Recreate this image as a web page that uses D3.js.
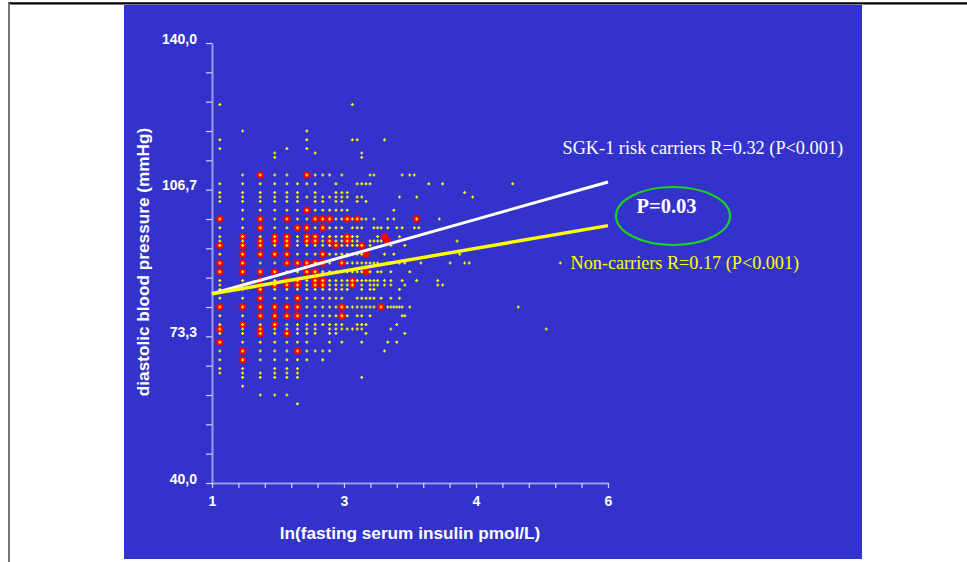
<!DOCTYPE html>
<html>
<head>
<meta charset="utf-8">
<script src="https://cdn.jsdelivr.net/npm/d3@7"></script>
<style>
  html, body { margin: 0; padding: 0; background: #ffffff; }
  svg { display: block; }
</style>
</head>
<body>
<svg id="chart" width="967" height="562"></svg>
<script>
// Diastolic blood pressure (mmHg) against fasting serum insulin (pmol/L, log scale).
// Each row: [blood pressure, list of insulin values observed at that pressure].
const carrierRows = [
  [110, [5, 9]],
  [102, [9]],
  [100, [3, 5, 7, 10, 11, 12, 15, 17, 36]],
  [98,  [5, 8, 9, 11]],
  [96,  [4, 6, 7, 9, 10, 15, 24]],
  [95,  [5, 6, 7, 9, 10, 12, 15, 25]],
  [94,  [3, 4, 5, 7, 13, 18]],
  [92,  [4, 5, 6, 7, 11, 19]],
  [90,  [3, 4, 7, 8, 9, 10, 11, 14]],
  [88,  [3, 4, 5, 6, 9, 10, 19]],
  [86,  [5, 7, 8, 10, 11, 16]],
  [85,  [5, 6, 7, 8, 10, 11, 16]],
  [84,  [5]],
  [82,  [5, 8]],
  [80,  [3, 4, 5, 6, 7, 8, 14, 23]],
  [78,  [5, 6, 7, 8, 14]],
  [76,  [4, 6]],
  [75,  [3, 5]],
  [74,  [5, 7]],
  [72,  [3]],
  [70,  [4, 8]],
  [68,  [4]]
];

const nonCarrierRows = [
  [126, [3, 16]],
  [120, [4, 9]],
  [118, [3, 9, 16, 17, 24]],
  [116, [3, 7, 9]],
  [115, [6, 10, 18]],
  [114, [6, 18]],
  [110, [4, 5, 6, 7, 9, 10, 11, 12, 14, 20, 21, 30, 33, 35]],
  [108, [3, 4, 5, 6, 7, 8, 9, 10, 13, 17, 18, 19, 20, 42, 50, 121]],
  [106, [3, 4, 5, 6, 7, 8, 10, 13, 14, 15, 66]],
  [105, [3, 4, 5, 6, 7, 8, 9, 10, 11, 12, 13, 14, 15, 17, 18, 29, 36, 73]],
  [104, [3, 4, 5, 6, 7, 8, 10, 11, 13, 14, 17, 19]],
  [102, [4, 5, 6, 7, 8, 9, 10, 11, 12, 13, 14, 15, 27]],
  [100, [3, 4, 5, 6, 7, 8, 9, 10, 11, 12, 13, 14, 15, 16, 17, 18, 19, 21, 25, 27, 36, 48]],
  [98,  [3, 4, 5, 6, 7, 8, 9, 10, 11, 12, 13, 14, 16, 17, 18, 21, 22, 23, 25, 28, 30, 35, 37]],
  [96,  [3, 4, 5, 6, 7, 8, 9, 10, 11, 12, 13, 14, 15, 16, 17, 22, 29]],
  [95,  [3, 4, 5, 6, 7, 8, 9, 10, 11, 12, 13, 14, 15, 16, 17, 20, 21, 22, 23, 60]],
  [94,  [3, 4, 5, 6, 7, 8, 9, 10, 11, 12, 13, 14, 15, 16, 17, 18, 20, 26, 31]],
  [92,  [3, 4, 5, 6, 7, 8, 9, 10, 11, 12, 13, 14, 15, 16, 17, 18, 24, 27, 62]],
  [90,  [3, 4, 5, 6, 7, 8, 9, 10, 11, 12, 14, 15, 16, 17, 18, 19, 20, 21, 22, 25, 26, 29, 31, 38, 55, 66, 70, 221]],
  [88,  [3, 4, 5, 6, 7, 8, 9, 10, 11, 12, 13, 14, 15, 16, 17, 18, 20, 22, 23, 26, 33]],
  [86,  [3, 4, 5, 6, 7, 8, 9, 10, 11, 12, 13, 14, 15, 16, 17, 18, 19, 20, 21, 22, 24, 26, 30, 36, 47]],
  [85,  [3, 4, 5, 6, 7, 8, 9, 10, 11, 12, 13, 14, 15, 16, 18, 20, 21, 22, 24, 26, 31, 47, 50]],
  [84,  [3, 4, 5, 6, 7, 8, 9, 10, 11, 12, 13, 14, 15, 18, 20, 21, 29]],
  [82,  [3, 4, 5, 6, 7, 8, 9, 10, 11, 12, 13, 14, 17, 18, 19, 20, 21, 23, 26, 29]],
  [80,  [3, 4, 5, 6, 7, 8, 9, 10, 11, 12, 13, 14, 15, 16, 17, 18, 19, 20, 21, 23, 25, 26, 27, 28, 29, 30, 33, 130]],
  [78,  [3, 4, 5, 6, 7, 8, 9, 10, 11, 12, 13, 14, 15, 17, 18, 20, 30, 31]],
  [76,  [3, 4, 5, 6, 7, 8, 9, 10, 11, 12, 13, 14, 17, 18, 19, 28]],
  [75,  [3, 4, 5, 6, 7, 8, 9, 10, 12, 13, 14, 15, 16, 17, 18, 26, 185]],
  [74,  [3, 4, 5, 6, 7, 8, 9, 10, 12, 13, 19, 31]],
  [72,  [3, 4, 5, 6, 7, 8, 9, 12, 14, 18, 25, 28]],
  [70,  [3, 4, 5, 6, 7, 8, 9, 10, 11, 12, 24]],
  [68,  [3, 4, 5, 6, 7, 8, 9, 11]],
  [66,  [3, 4, 6, 7, 8]],
  [65,  [3, 4, 5, 6, 7, 8]],
  [64,  [4, 5, 6, 7, 8, 18]],
  [62,  [4]],
  [60,  [5, 6, 7]],
  [58,  [8]]
];

// Regression lines, endpoints as [ln(insulin), blood pressure]
const carrierFit = [[1, 83], [6, 108.4]];
const nonCarrierFit = [[1, 83], [6, 98.5]];

// Axis ticks and labels
const xTickValues = d3.range(16).map(i => 1 + i / 3);
const xTickLabels = ["1", "3", "4", "6"];
const yTickValues = d3.range(16).map(i => 40 + i * 100 / 15);
const yTickLabels = ["40,0", "73,3", "106,7", "140,0"];

const carrierLabel = "SGK-1 risk carriers R=0.32 (P<0.001)";
const nonCarrierLabel = "Non-carriers R=0.17 (P<0.001)";
const diffLabel = "P=0.03";

const svg = d3.select("#chart");
const sans = "'Liberation Sans', Arial, sans-serif";
const serif = "'Liberation Serif', 'Times New Roman', serif";

// Page frame
svg.append("rect").attr("x", 0).attr("y", 0).attr("width", 967).attr("height", 562).attr("fill", "#ffffff");
svg.append("line").attr("x1", 8).attr("x2", 967).attr("y1", 3.3).attr("y2", 3.3)
  .attr("stroke", "#000000").attr("stroke-width", 2.2);
svg.append("line").attr("x1", 9).attr("x2", 9).attr("y1", 3).attr("y2", 562)
  .attr("stroke", "#777777").attr("stroke-width", 2);

// Slide background
svg.append("rect").attr("x", 124).attr("y", 5).attr("width", 738).attr("height", 554).attr("fill", "#3333cc");

const x = d3.scaleLinear().domain([1, 6]).range([212, 608]);
const y = d3.scaleLinear().domain([40, 140]).range([483, 43]);

const toPoints = rows => rows.flatMap(([bp, ins]) => ins.map(k => ({ lx: Math.log(k), bp })));
const carriers = toPoints(carrierRows);
const nonCarriers = toPoints(nonCarrierRows);

// Axes
const yAxis = d3.axisLeft(y)
  .tickValues(yTickValues)
  .tickSize(6)
  .tickSizeOuter(0)
  .tickPadding(9)
  .tickFormat((d, i) => i % 5 === 0 ? yTickLabels[i / 5] : "");
const gy = svg.append("g").attr("transform", "translate(212,0)").call(yAxis);

const xAxis = d3.axisBottom(x)
  .tickValues(xTickValues)
  .tickSize(5)
  .tickSizeOuter(0)
  .tickPadding(8)
  .tickFormat((d, i) => i % 5 === 0 ? xTickLabels[i / 5] : "");
const gx = svg.append("g").attr("transform", "translate(0,483)").call(xAxis);

[gx, gy].forEach(g => {
  g.select(".domain").attr("stroke", "#9c9ce8").attr("stroke-width", 2);
  g.selectAll(".tick line").attr("stroke", "#d4d4fa").attr("stroke-width", 1.2);
  g.selectAll(".tick text").attr("fill", "#ffffff")
    .attr("font-family", sans).attr("font-weight", "bold").attr("font-size", 14);
});
gy.selectAll(".tick text").attr("dy", "0.02em");

// Axis titles
svg.append("text")
  .attr("transform", "translate(149,262) rotate(-90)")
  .attr("text-anchor", "middle")
  .attr("fill", "#ffffff").attr("font-family", sans).attr("font-weight", "bold").attr("font-size", 17.2)
  .text("diastolic blood pressure (mmHg)");
svg.append("text")
  .attr("x", 410).attr("y", 539)
  .attr("text-anchor", "middle")
  .attr("fill", "#ffffff").attr("font-family", sans).attr("font-weight", "bold").attr("font-size", 17.2)
  .text("ln(fasting serum insulin pmol/L)");

// Carriers: red discs
svg.append("g").selectAll("circle").data(carriers).join("circle")
  .attr("cx", d => x(d.lx)).attr("cy", d => y(d.bp))
  .attr("r", 3.6).attr("fill", "#ff0000");

// Non-carriers: small yellow crosses
const cross = "M-1.5,-0.6h3v1.2h-3z M-0.6,-1.5h1.2v3h-1.2z";
svg.append("g").selectAll("path").data(nonCarriers).join("path")
  .attr("transform", d => `translate(${x(d.lx)},${y(d.bp)})`)
  .attr("d", cross).attr("fill", "#ffff00");

// Fit lines
const line = d3.line().x(d => x(d[0])).y(d => y(d[1]));
svg.append("path").attr("d", line(carrierFit)).attr("stroke", "#ffffff").attr("stroke-width", 3).attr("fill", "none");
svg.append("path").attr("d", line(nonCarrierFit)).attr("stroke", "#ffff00").attr("stroke-width", 3.4).attr("fill", "none");

// Annotations
svg.append("text").attr("x", 562.5).attr("y", 153.5)
  .attr("fill", "#ffffff").attr("font-family", serif).attr("font-size", 18.3)
  .text(carrierLabel);
svg.append("text").attr("x", 570.5).attr("y", 268.5)
  .attr("fill", "#ffff00").attr("font-family", serif).attr("font-size", 18.2)
  .text(nonCarrierLabel);
svg.append("ellipse").attr("cx", 673).attr("cy", 216).attr("rx", 57).attr("ry", 29)
  .attr("fill", "none").attr("stroke", "#1ad21a").attr("stroke-width", 2.2);
svg.append("text").attr("x", 636.5).attr("y", 213)
  .attr("fill", "#ffffff").attr("font-family", serif).attr("font-weight", "bold").attr("font-size", 20.5)
  .text(diffLabel);
</script>
</body>
</html>
